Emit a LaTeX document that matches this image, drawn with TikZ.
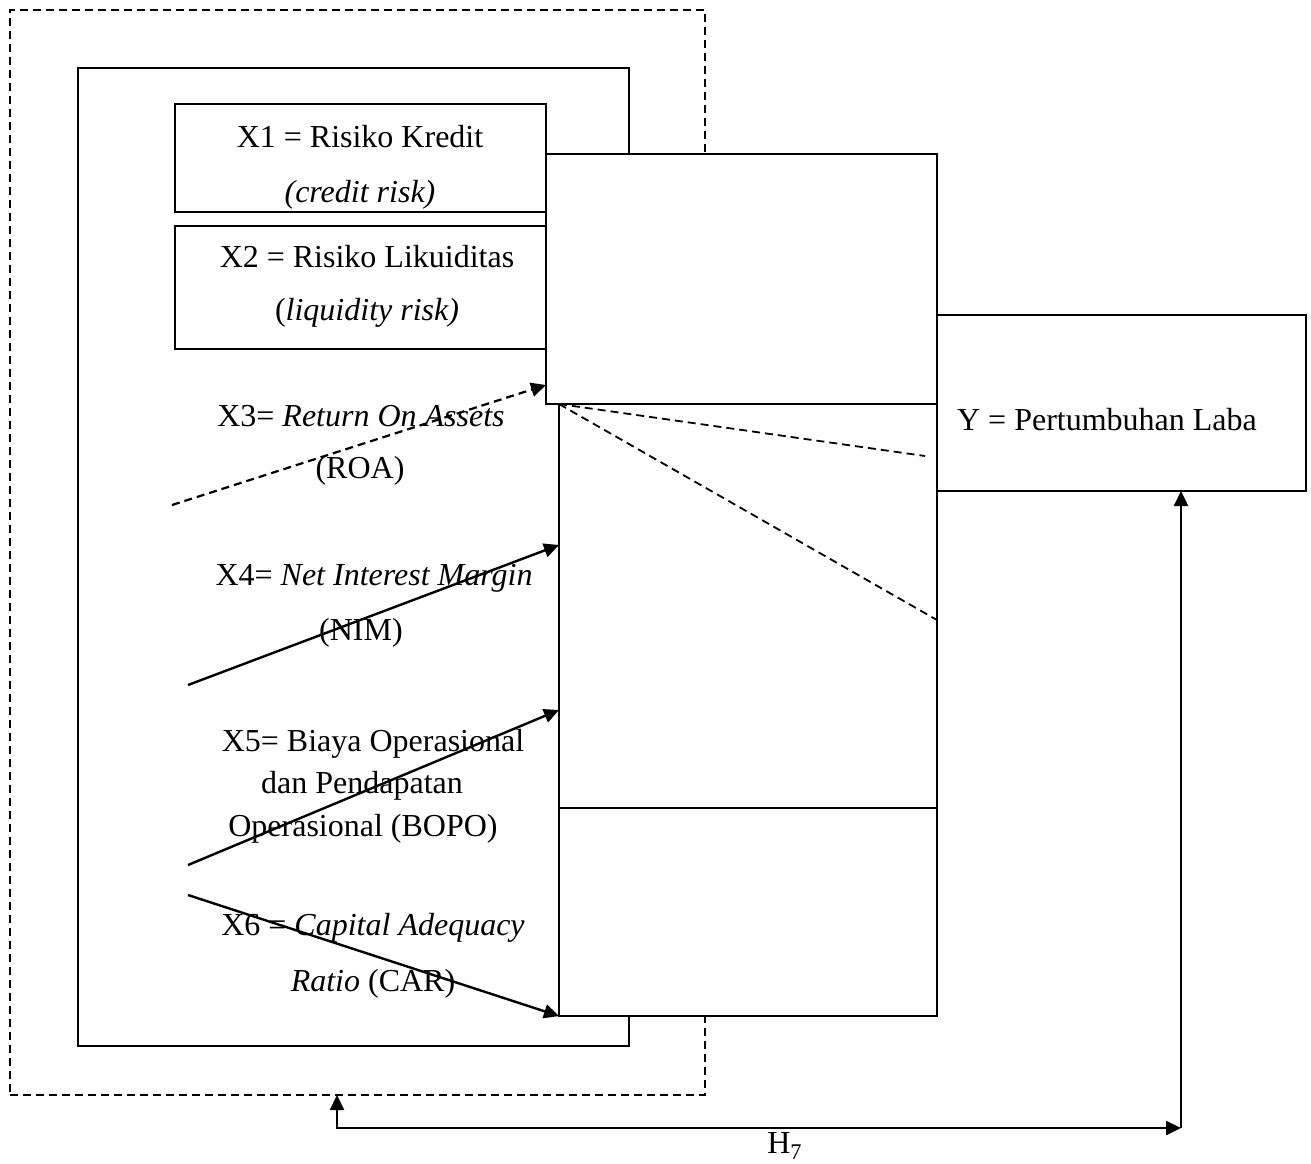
\documentclass[tikz,border=0pt]{standalone}
\usepackage{fontspec}
\setmainfont{Liberation Serif}
\usetikzlibrary{arrows.meta}
\begin{document}
\begin{tikzpicture}[x=0.5pt,y=-0.5pt,
  box/.style={draw,line width=1.1pt,inner sep=0pt,outer sep=0pt,anchor=north west,fill=white},
  dbox/.style={draw,line width=1pt,dash pattern=on 4pt off 2.5pt,inner sep=0pt,outer sep=0pt,anchor=north west},
  lbl/.style={font=\fontsize{16}{27.5}\selectfont,align=center,inner sep=0pt},
  tip/.style={Triangle[length=7.5pt,width=7pt]},
  arr/.style={line width=1.2pt,-{Triangle[length=7.5pt,width=7pt]}},
  darr/.style={line width=1.1pt,dash pattern=on 4pt off 2.5pt,-{Triangle[length=7.5pt,width=7pt]}},
  dln/.style={line width=0.9pt,dash pattern=on 4pt off 2.5pt}]
\useasboundingbox (0,0) rectangle (1311,1163);
% outer frames
\node[dbox,minimum width=347.5pt,minimum height=542.5pt] (outer) at (10,10) {};
\node[box,fill=none,minimum width=275.5pt,minimum height=489pt] (inner) at (78,68) {};
\node[box,minimum width=185.5pt,minimum height=54pt] (x1box) at (175,104) {};
\node[box,minimum width=185.5pt,minimum height=61.5pt] (x2box) at (175,226) {};
% middle column boxes
\node[box,minimum width=195.5pt,minimum height=125pt] (mtop) at (546,154) {};
\node[box,minimum width=189pt,minimum height=202pt] (mmid) at (559,404) {};
\node[box,minimum width=189pt,minimum height=104pt] (mbot) at (559,808) {};
\node[box,minimum width=184.5pt,minimum height=88pt] (ybox) at (937,315) {};
% labels
\node[lbl] (t1) at (360,137) {X1 = Risiko Kredit};
\node[lbl] (t1b) at (360,195) {\itshape (credit risk)};
\node[lbl] (t2) at (367,257) {X2 = Risiko Likuiditas};
\node[lbl] (t2b) at (367,313) {(\textit{liquidity risk)}};
\node[lbl] (t3) at (361,416) {X3= \textit{Return On Assets}};
\node[lbl] (t3b) at (360,471) {(ROA)};
\node[lbl] (t4) at (374,578) {X4= \textit{Net Interest Margin}};
\node[lbl] (t4b) at (361,633) {(NIM)};
\node[lbl] (t5) at (373,744) {X5= Biaya Operasional};
\node[lbl] (t5b) at (362,786) {dan Pendapatan};
\node[lbl] (t5c) at (363,829) {Operasional (BOPO)};
\node[lbl] (t6) at (373,928) {X6 = \textit{Capital Adequacy}};
\node[lbl] (t6b) at (373,984) {\textit{Ratio} (CAR)};
\node[lbl] (ty) at (1107,420) {Y = Pertumbuhan Laba};
\node[lbl] (h7) at (785,1146) {H\textsubscript{7}};
% connectors
\coordinate (s3) at (172,505);
\coordinate (s4) at (188,685);
\coordinate (s5) at (188,865);
\coordinate (s6) at (188,895);
\coordinate (e3) at (546,385);
\coordinate (e4) at (559,545);
\coordinate (e5) at (559,710);
\coordinate (d1) at (925,456);
\coordinate (d2) at (937,620);
\draw[darr] (s3) -- (e3);
\draw[arr] (s4) -- (e4);
\draw[arr] (s5) -- (e5);
\draw[arr] (s6) -- (mbot.south west);
\draw[dln] (mmid.north west) -- (d1);
\draw[dln] (mmid.north west) -- (d2);
\coordinate (h7l) at (337,1128);
\coordinate (h7r) at (1181,1128);
\draw[line width=1.2pt,{Triangle[length=7.5pt,width=7pt]}-{Triangle[length=7.5pt,width=7pt]}] (outer.south -| h7l) -- (h7l) -- (h7r);
\draw[arr] (h7r) -- (ybox.south -| h7r);
\end{tikzpicture}
\end{document}
